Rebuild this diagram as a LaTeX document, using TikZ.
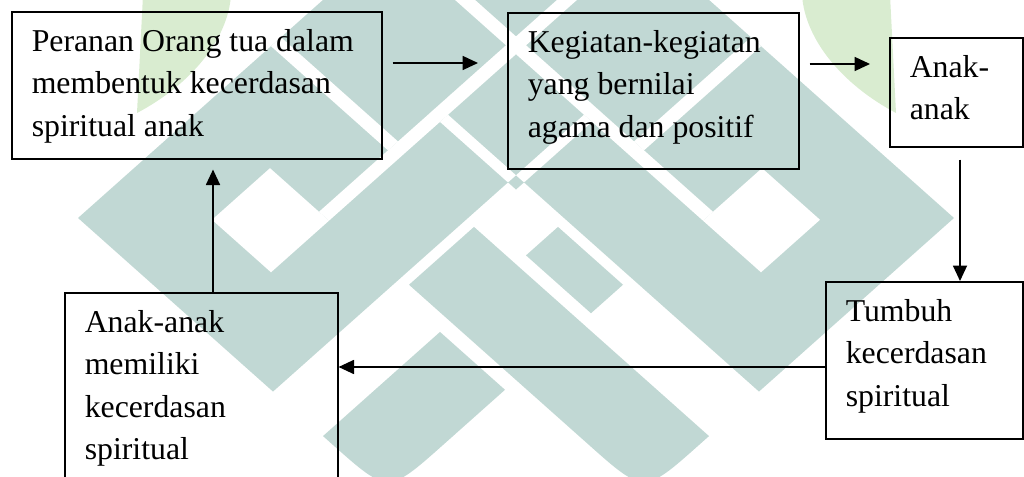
\documentclass[tikz,border=0pt]{standalone}
\usepackage{fontspec}
\setmainfont{Liberation Serif}
\usepackage{tikz}
\usetikzlibrary{arrows.meta, calc}
\usepackage{xcolor}
\definecolor{tosca}{RGB}{193,216,212}
\definecolor{daun}{RGB}{217,236,208}
\newlength{\satpx}
\setlength{\satpx}{0.025cm}
\newcommand{\isikotak}[3]{\parbox[t][#2\satpx][t]{#1\satpx}{\strut #3}}

\begin{document}
\begin{tikzpicture}[x=0.025cm, y=-0.025cm,
		kotak/.style={draw, line width=1.1pt, anchor=north west, inner xsep=20\satpx, inner ysep=10.5\satpx, font=\fontsize{22.6}{30}\selectfont},
		panah/.style={line width=1.1pt, -{Triangle[length=11pt,width=10pt]}}]
				\useasboundingbox (0,0) rectangle (1024,477);
				\clip (0,0) rectangle (1024,477);
				% logo di latar
				\begin{scope}[shift={(78,218)}, x={(0.025cm,-0.02225cm)}, y={(0.025cm,0.02225cm)}]
					\fill[tosca] (0,0) -- (195,0) -- (195,235) -- (117,235) -- (117,438) -- (0,438) -- cycle;
					\fill[tosca] (438,438) -- (438,243) -- (203,243) -- (203,321) -- (0,321) -- (0,438) -- cycle;
					\fill[tosca] (117,235) -- (203,235) -- (203,321) -- (117,321) -- cycle;
					\fill[tosca] (245,117) -- (245,0) -- (255,0) .. controls (310,0) .. (310,55) -- (310,117) -- cycle;
					\fill[tosca] (245,203) -- (310,203) -- (310,235) -- (245,235) -- cycle;
					\fill[tosca] (203,128) -- (383,128) .. controls (438,128) .. (438,183) -- (438,193) -- (203,193) -- cycle;
					\foreach \aa/\ba/\ab/\bb in {68/66/127/124, 314/311/372/370, 117/124/127/438, 0/311/314/321,
						0/193/117/203, 235/321/245/438, 127/235/195/243, 195/243/203/311}
						\fill[white] (\aa,\ba) -- (\ab,\ba) -- (\ab,\bb) -- (\aa,\bb) -- cycle;
				\end{scope}
				\fill[daun] (143,-5) -- (137,113) .. controls (190,85) and (228,40) .. (231,-5) -- cycle;
				\fill[daun] (890,-5) -- (896,113) .. controls (843,85) and (805,40) .. (802,-5) -- cycle;
				% kotak
				\node[kotak] (b1) at (11,11) {\isikotak{330}{126}{Peranan Orang tua dalam\\membentuk kecerdasan\\spiritual anak}};
				\node[kotak] (b2) at (507,12) {\isikotak{251}{135}{Kegiatan-kegiatan\\yang bernilai\\agama dan positif}};
				\node[kotak] (b3) at (889,37) {\isikotak{93}{88}{Anak-\\anak}};
				\node[kotak] (b4) at (825,281) {\isikotak{157}{136}{Tumbuh\\kecerdasan\\spiritual}};
				\node[kotak] (b5) at (64,292) {\isikotak{233}{209}{Anak-anak\\memiliki\\kecerdasan\\spiritual}};
				% panah
				\draw[panah] ($(b1.north east)+(10,52)$) -- ($(b2.north west)+(-29,51)$);
				\draw[panah] ($(b2.north east)+(10,52)$) -- ($(b3.north west)+(-19,27)$);
				\draw[panah] ($(b3.south west)+(71,12)$) -- ($(b4.north west)+(135,0)$);
				\draw[panah] ($(b4.north west)+(0,86)$) -- ($(b5.north east)+(0,75)$);
				\draw[panah] ($(b5.north west)+(149,0)$) -- ($(b1.south west)+(202,10)$);
			\end{tikzpicture}
\end{document}
